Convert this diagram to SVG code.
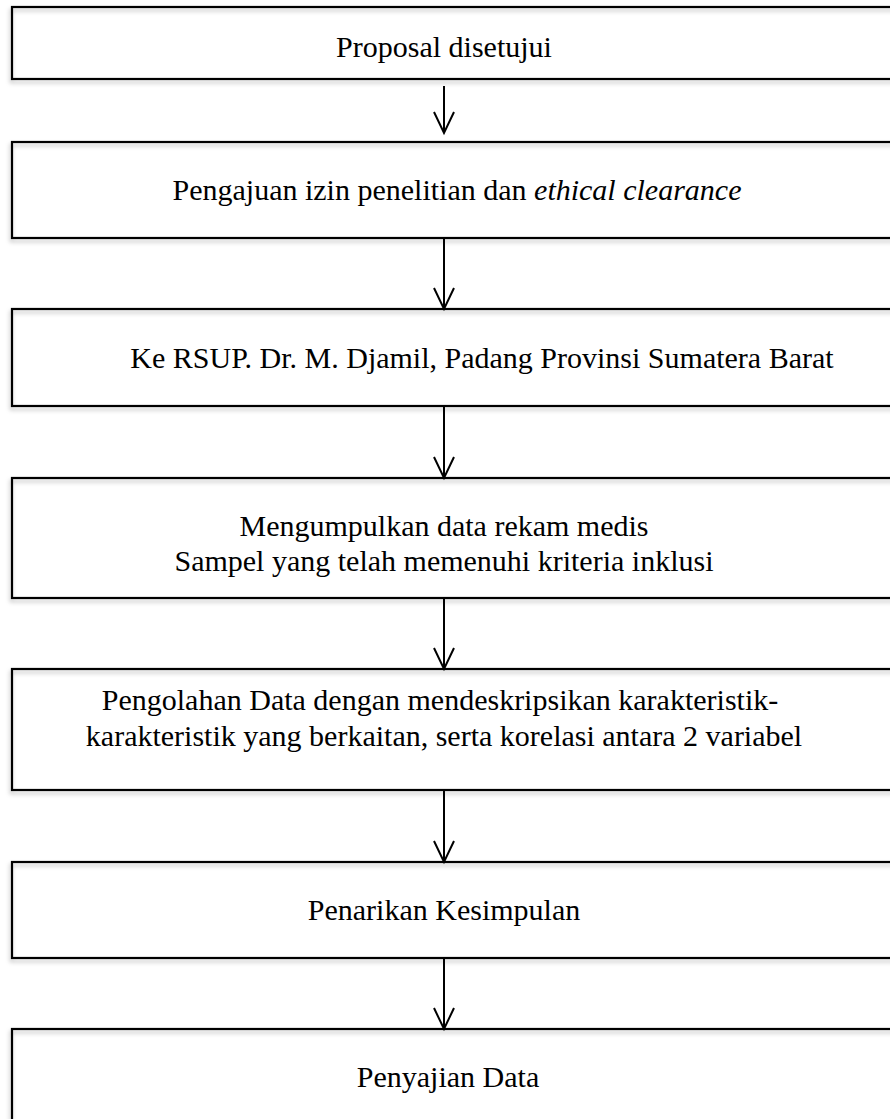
<svg xmlns="http://www.w3.org/2000/svg" width="890" height="1119" viewBox="0 0 890 1119">
<defs>
<filter id="sh" x="-5%" y="-20%" width="110%" height="150%">
<feDropShadow dx="-1" dy="3" stdDeviation="2" flood-color="#000" flood-opacity="0.25"/>
</filter>
<marker id="ah" markerUnits="userSpaceOnUse" markerWidth="26" markerHeight="26" refX="22" refY="11" orient="auto">
<path d="M1,1 L22,11 L1,21" fill="none" stroke="#000" stroke-width="2"/>
</marker>
</defs>
<style>
.box{fill:none;stroke:#000;stroke-width:2.2}
.t{font-family:"Liberation Serif","Times New Roman",serif;font-size:30px;fill:#000;text-anchor:middle}
.c{stroke:#000;stroke-width:2;fill:none;marker-end:url(#ah)}
</style>
<rect x="0" y="0" width="890" height="1119" fill="#fff"/>
<g id="n1" filter="url(#sh)"><rect class="box" x="12" y="7" width="900" height="72"/></g>
<g id="n1t"><text class="t" x="444" y="57">Proposal disetujui</text></g>
<g id="n2" filter="url(#sh)"><rect class="box" x="12" y="142" width="900" height="96"/></g>
<g id="n2t"><text class="t" x="457" y="200">Pengajuan izin penelitian dan <tspan font-style="italic">ethical clearance</tspan></text></g>
<g id="n3" filter="url(#sh)"><rect class="box" x="12" y="309" width="900" height="97"/></g>
<g id="n3t"><text class="t" x="482" y="368">Ke RSUP. Dr. M. Djamil, Padang Provinsi Sumatera Barat</text></g>
<g id="n4" filter="url(#sh)"><rect class="box" x="12" y="478" width="900" height="120"/></g>
<g id="n4t"><text class="t" x="444" y="536">Mengumpulkan data rekam medis</text><text class="t" x="444" y="571">Sampel yang telah memenuhi kriteria inklusi</text></g>
<g id="n5" filter="url(#sh)"><rect class="box" x="12" y="669" width="900" height="121"/></g>
<g id="n5t"><text class="t" x="440" y="710">Pengolahan Data dengan mendeskripsikan karakteristik-</text><text class="t" x="444" y="746">karakteristik yang berkaitan, serta korelasi antara 2 variabel</text></g>
<g id="n6" filter="url(#sh)"><rect class="box" x="12" y="862" width="900" height="96"/></g>
<g id="n6t"><text class="t" x="444" y="920">Penarikan Kesimpulan</text></g>
<g id="n7" filter="url(#sh)"><rect class="box" x="12" y="1029" width="900" height="120"/></g>
<g id="n7t"><text class="t" x="448" y="1087">Penyajian Data</text></g>
<g id="connectors">
<line class="c" x1="444" y1="86" x2="444" y2="133"/>
<line class="c" x1="444" y1="238" x2="444" y2="309"/>
<line class="c" x1="444" y1="406" x2="444" y2="478"/>
<line class="c" x1="444" y1="598" x2="444" y2="669"/>
<line class="c" x1="444" y1="790" x2="444" y2="862"/>
<line class="c" x1="444" y1="958" x2="444" y2="1029"/>
</g>
</svg>
